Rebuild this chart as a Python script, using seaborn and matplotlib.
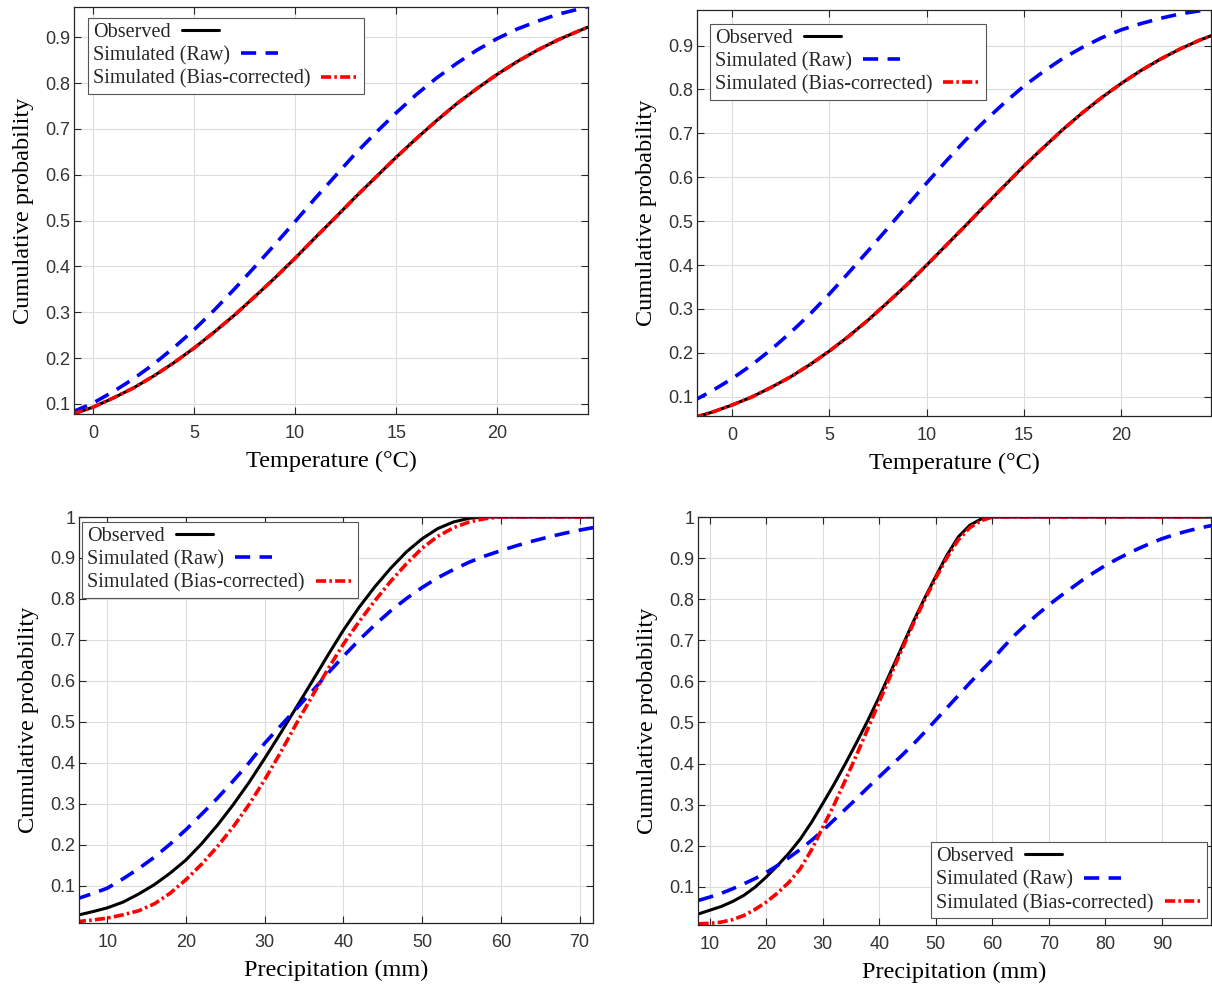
import matplotlib
matplotlib.use('Agg')
import matplotlib.pyplot as plt
import seaborn as sns

sns.set_theme(style='ticks')
plt.rcParams['font.family'] = ['Liberation Sans', 'DejaVu Sans']

# ---------------- data ----------------
# Panel (a): temperature, station 1
t1_x = [-1, 0, 1, 2, 3, 4, 5, 6, 7, 8, 9, 10, 11, 12, 13, 14, 15, 16, 17, 18, 19, 20,
        21, 22, 23, 24, 24.5]
t1_obs = [0.078, 0.093, 0.113, 0.135, 0.161, 0.190, 0.222, 0.257, 0.294, 0.334, 0.375,
          0.418, 0.463, 0.507, 0.552, 0.595, 0.638, 0.679, 0.718, 0.755, 0.788, 0.819,
          0.847, 0.872, 0.894, 0.913, 0.922]
t1_raw = [0.083, 0.102, 0.127, 0.155, 0.187, 0.223, 0.262, 0.305, 0.351, 0.399, 0.448,
          0.498, 0.549, 0.598, 0.647, 0.692, 0.735, 0.775, 0.811, 0.843, 0.872, 0.897,
          0.918, 0.935, 0.950, 0.961, 0.967]
t1_bc = [0.078, 0.093, 0.113, 0.135, 0.161, 0.190, 0.222, 0.257, 0.294, 0.334, 0.375,
         0.418, 0.463, 0.507, 0.552, 0.595, 0.638, 0.679, 0.718, 0.755, 0.788, 0.819,
         0.847, 0.872, 0.894, 0.913, 0.922]

# Panel (b): temperature, station 2
t2_x = [-2, -1, 0, 1, 2, 3, 4, 5, 6, 7, 8, 9, 10, 11, 12, 13, 14, 15, 16, 17, 18, 19,
        20, 21, 22, 23, 24, 25]
t2_obs = [0.052, 0.065, 0.081, 0.099, 0.121, 0.145, 0.173, 0.204, 0.238, 0.275, 0.315,
          0.356, 0.400, 0.445, 0.490, 0.536, 0.581, 0.626, 0.668, 0.709, 0.747, 0.782,
          0.814, 0.843, 0.869, 0.892, 0.912, 0.929]
t2_raw = [0.090, 0.114, 0.141, 0.172, 0.207, 0.246, 0.288, 0.334, 0.383, 0.433, 0.484,
          0.536, 0.587, 0.637, 0.685, 0.729, 0.770, 0.808, 0.841, 0.871, 0.896, 0.918,
          0.936, 0.950, 0.962, 0.972, 0.979, 0.985]
t2_bc = [0.052, 0.065, 0.081, 0.099, 0.121, 0.145, 0.173, 0.204, 0.238, 0.275, 0.315,
         0.356, 0.400, 0.445, 0.490, 0.536, 0.581, 0.626, 0.668, 0.709, 0.747, 0.782,
         0.814, 0.843, 0.869, 0.892, 0.912, 0.929]

# Panel (c): precipitation, station 1
p1_x = [6, 8, 10, 12, 14, 16, 18, 20, 22, 24, 26, 28, 30, 32, 34, 36, 38, 40, 42, 44,
        46, 48, 50, 52, 54, 56, 58, 60, 62, 64, 66, 68, 70, 72]
p1_obs = [0.027, 0.036, 0.046, 0.060, 0.080, 0.103, 0.131, 0.163, 0.203, 0.248, 0.298,
          0.352, 0.411, 0.472, 0.535, 0.598, 0.662, 0.724, 0.780, 0.830, 0.875, 0.915,
          0.947, 0.972, 0.988, 0.997, 1.0, 1.0, 1.0, 1.0, 1.0, 1.0, 1.0, 1.0]
p1_raw = [0.067, 0.080, 0.094, 0.117, 0.142, 0.170, 0.202, 0.237, 0.275, 0.314, 0.356,
          0.400, 0.448, 0.490, 0.532, 0.574, 0.618, 0.660, 0.700, 0.737, 0.771, 0.801,
          0.828, 0.852, 0.872, 0.890, 0.905, 0.918, 0.930, 0.941, 0.951, 0.960, 0.968,
          0.975]
p1_bc = [0.012, 0.016, 0.021, 0.029, 0.039, 0.056, 0.082, 0.115, 0.153, 0.196, 0.244,
         0.298, 0.359, 0.425, 0.495, 0.562, 0.628, 0.690, 0.745, 0.796, 0.843, 0.886,
         0.924, 0.953, 0.974, 0.988, 0.996, 1.0, 1.0, 1.0, 1.0, 1.0, 1.0, 1.0]

# Panel (d): precipitation, station 2
p2_x = [8, 10, 12, 14, 16, 18, 20, 22, 24, 26, 28, 30, 32, 34, 36, 38, 40, 42, 44, 46,
        48, 50, 52, 54, 56, 58, 60, 62, 64, 66, 68, 70, 72, 74, 76, 78, 80, 82, 84, 86,
        88, 90, 92, 94, 96, 98, 100]
p2_obs = [0.034, 0.043, 0.052, 0.064, 0.079, 0.099, 0.124, 0.152, 0.182, 0.216, 0.257,
          0.303, 0.350, 0.400, 0.452, 0.506, 0.563, 0.623, 0.684, 0.745, 0.802, 0.856,
          0.908, 0.952, 0.980, 0.995, 1.0, 1.0, 1.0, 1.0, 1.0, 1.0, 1.0, 1.0, 1.0, 1.0,
          1.0, 1.0, 1.0, 1.0, 1.0, 1.0, 1.0, 1.0, 1.0, 1.0, 1.0]
p2_raw = [0.067, 0.075, 0.084, 0.095, 0.107, 0.120, 0.135, 0.152, 0.171, 0.191, 0.213,
          0.237, 0.263, 0.289, 0.315, 0.342, 0.368, 0.394, 0.420, 0.447, 0.476, 0.506,
          0.536, 0.566, 0.596, 0.625, 0.653, 0.684, 0.713, 0.739, 0.763, 0.786, 0.807,
          0.827, 0.847, 0.865, 0.882, 0.897, 0.911, 0.924, 0.936, 0.947, 0.956, 0.964,
          0.971, 0.977, 0.982]
p2_bc = [0.010, 0.011, 0.014, 0.020, 0.030, 0.045, 0.063, 0.085, 0.111, 0.144, 0.190,
         0.245, 0.300, 0.360, 0.422, 0.486, 0.551, 0.615, 0.678, 0.740, 0.798, 0.852,
         0.902, 0.945, 0.974, 0.991, 1.0, 1.0, 1.0, 1.0, 1.0, 1.0, 1.0, 1.0, 1.0, 1.0,
         1.0, 1.0, 1.0, 1.0, 1.0, 1.0, 1.0, 1.0, 1.0, 1.0, 1.0]

labels = ['Observed', 'Simulated (Raw)', 'Simulated (Bias-corrected)']
temp_xticks = [0, 5, 10, 15, 20]
prec1_xticks = [10, 20, 30, 40, 50, 60, 70]
prec2_xticks = [10, 20, 30, 40, 50, 60, 70, 80, 90]
yticks_a = [0.1, 0.2, 0.3, 0.4, 0.5, 0.6, 0.7, 0.8, 0.9]
yticks_b = [0.1, 0.2, 0.3, 0.4, 0.5, 0.6, 0.7, 0.8, 0.9, 1.0]
ytick_labels_b = ['0.1', '0.2', '0.3', '0.4', '0.5', '0.6', '0.7', '0.8', '0.9', '1']

# ---------------- drawing ----------------
W, H = 1212, 985
fig = plt.figure(figsize=(W / 100, H / 100), dpi=100)

SERIF = ['Liberation Serif', 'DejaVu Serif']
SANS = ['Liberation Sans', 'DejaVu Sans']
AX_COL = '#262626'


def panel(rect_px, x, obs, raw, bc, xlim, ylim, xticks, yticks, ytl, xlabel,
          leg_loc, leg_anchor):
    l, t, r, b = rect_px
    ax = fig.add_axes([l / W, 1 - b / H, (r - l) / W, (b - t) / H])
    sns.lineplot(x=x, y=obs, ax=ax, color='black', lw=2.2, label=labels[0],
                 estimator=None, sort=False)
    sns.lineplot(x=x, y=raw, ax=ax, color='#0000ff', lw=2.6, label=labels[1],
                 estimator=None, sort=False)
    ax.lines[-1].set_dashes([4.2, 2.6])
    sns.lineplot(x=x, y=bc, ax=ax, color='#ff0000', lw=2.6, label=labels[2],
                 estimator=None, sort=False)
    ax.lines[-1].set_dashes([2.8, 0.9, 0.7, 0.9])

    ax.set_xlim(*xlim)
    ax.set_ylim(*ylim)
    ax.set_xticks(xticks)
    ax.set_xticklabels([str(v) for v in xticks], fontfamily=SANS)
    ax.set_yticks(yticks)
    ax.set_yticklabels(ytl, fontfamily=SANS)
    ax.grid(True, color='#dcdcdc', lw=0.8)
    ax.set_axisbelow(True)
    for s in ax.spines.values():
        s.set_visible(True)
        s.set_color(AX_COL)
        s.set_linewidth(0.9)
    ax.tick_params(direction='in', length=5, width=0.8, color=AX_COL,
                   top=True, right=True, labelsize=13, labelcolor='#333333')
    ax.tick_params(axis='x', pad=8)
    ax.tick_params(axis='y', pad=2.5)
    ax.set_xlabel(xlabel, fontfamily=SERIF, fontsize=17.5, color='black', labelpad=6)
    ax.set_ylabel('Cumulative probability', fontfamily=SERIF, fontsize=17.5,
                  color='black', labelpad=8)
    leg = ax.legend(loc=leg_loc, bbox_to_anchor=leg_anchor, borderaxespad=0,
                    markerfirst=False, prop={'family': SERIF, 'size': 14.5},
                    frameon=True, fancybox=False, framealpha=1, edgecolor='#555555',
                    handlelength=1.85, handletextpad=0.55, labelspacing=0.2,
                    borderpad=0.25)
    # text first, handle directly after it (left aligned rows)
    for col in leg._legend_handle_box.get_children():
        col.align = 'left'
    leg.get_frame().set_linewidth(0.8)
    return ax


panel((74, 7, 588, 414), t1_x, t1_obs, t1_raw, t1_bc, (-0.95, 24.5), (0.078, 0.966),
      temp_xticks, yticks_a, [str(v) for v in yticks_a], 'Temperature (°C)',
      'upper left', (0.027, 0.973))
panel((697, 10, 1211, 416), t2_x, t2_obs, t2_raw, t2_bc, (-1.8, 24.6), (0.056, 0.981),
      temp_xticks, yticks_a, [str(v) for v in yticks_a], 'Temperature (°C)',
      'upper left', (0.025, 0.966))
panel((79, 517, 593, 923), p1_x, p1_obs, p1_raw, p1_bc, (6.4, 71.7), (0.009, 1.0),
      prec1_xticks, yticks_b, ytick_labels_b, 'Precipitation (mm)',
      'upper left', (0.006, 0.988))
panel((698, 517, 1211, 925), p2_x, p2_obs, p2_raw, p2_bc, (7.9, 98.7), (0.007, 1.0),
      prec2_xticks, yticks_b, ytick_labels_b, 'Precipitation (mm)',
      'lower left', (0.454, 0.017))

fig.savefig('out.png', dpi=100, facecolor='white')
